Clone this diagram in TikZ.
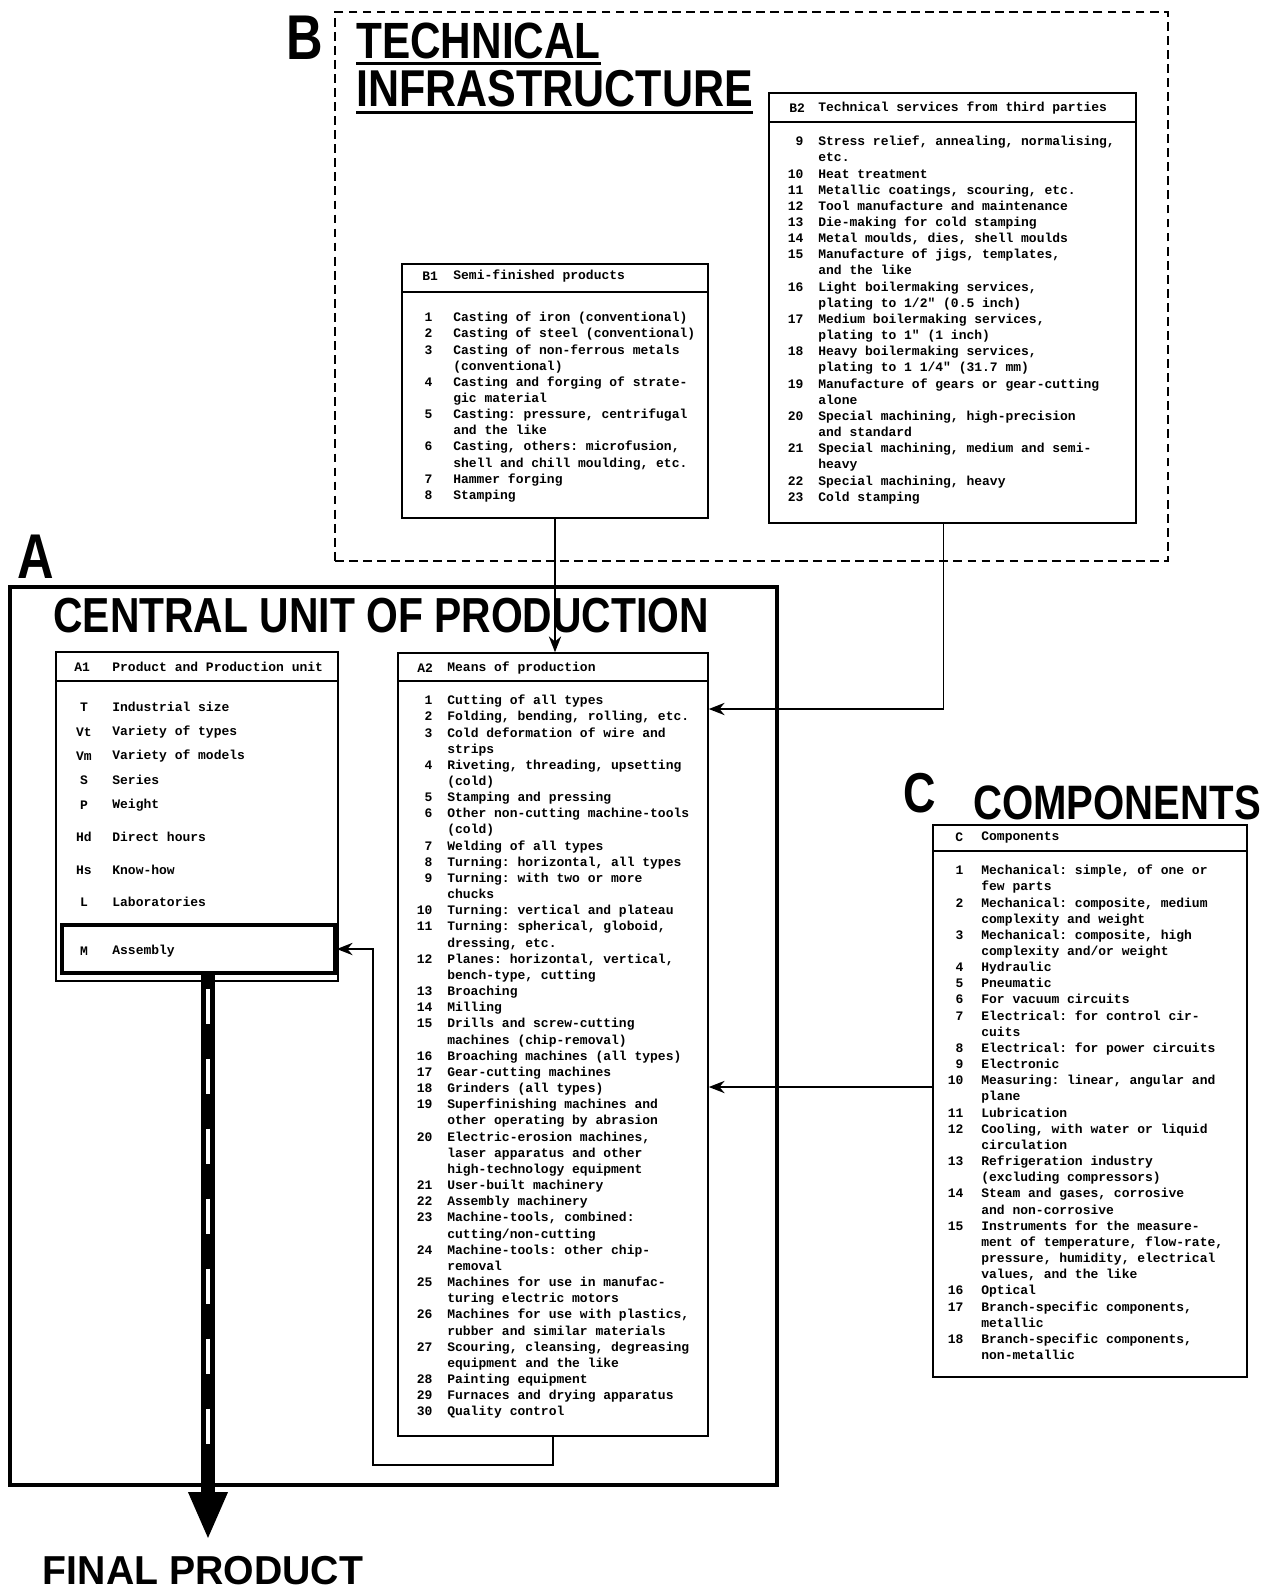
\documentclass[tikz,border=0pt]{standalone}
\usepackage{fontspec}
\setmonofont{Liberation Mono}
\newfontfamily\titlefont{Liberation Sans}[FakeStretch=0.83]
\newfontfamily\letterfont{Liberation Sans}[FakeStretch=0.8]
\newfontfamily\finalfont{Liberation Sans}[FakeStretch=0.97]
\usetikzlibrary{arrows.meta, positioning, fit}

% numbered line of a list: number hangs left of the text column
\newcommand\lrow[3][3mm]{\strut\llap{#2\hspace{#1}}#3}

\begin{document}
\begin{tikzpicture}[x=0.02cm, y=-0.02cm,
  panel/.style={draw, line width=0.9pt, inner sep=0pt},
  frameA/.style={draw, line width=2.6pt, inner sep=0pt},
  frameB/.style={draw, line width=0.7pt, dash pattern=on 5pt off 3pt, inner sep=0pt},
  list/.style={font=\fontsize{7.4}{9.2}\selectfont\ttfamily\bfseries, align=left, inner sep=0pt, anchor=north west},
  head/.style={font=\fontsize{7.4}{9.2}\selectfont\ttfamily\bfseries, inner sep=0pt, anchor=west},
  title/.style={font=\fontsize{29}{30}\selectfont\titlefont\bfseries, inner sep=0pt, anchor=west},
  letter/.style={font=\fontsize{36}{36}\selectfont\letterfont\bfseries, inner sep=0pt},
  flow/.style={line width=1pt, -{Stealth[length=9pt, width=7pt]}}]
\useasboundingbox (0,0) rectangle (1273,1593);

% B technical infrastructure
\node[frameB, fit={(335,12) (1168,561)}] (B) {};
\node[letter] (Bl) at (305,38) {B};
\node[title] (tech) at (356,41) {TECHNICAL};
\node[title, font=\fontsize{29.5}{30}\selectfont\titlefont\bfseries] (infra) at (356,89) {INFRASTRUCTURE};
\draw[line width=1.7pt] ([yshift=-2.5pt]tech.south west) -- ([yshift=-2.5pt]tech.south east);
\draw[line width=1.7pt] ([yshift=-2.5pt]infra.south west) -- ([yshift=-2.5pt]infra.south east);

% B1 semi-finished products
\node[panel, fit={(402,264) (708,518)}] (b1) {};
\draw[line width=0.7pt] (b1.west |- 0,292) -- (b1.east |- 0,292);
\node[head] (b1n) at (422,276) {B1};
\node[head] (b1h) at (453,276) {Semi-finished products};
\node[list] (b1list) at (453,310) {%
\lrow[4.2mm]{1}{Casting of iron (conventional)}\\
\lrow[4.2mm]{2}{Casting of steel (conventional)}\\
\lrow[4.2mm]{3}{Casting of non-ferrous metals}\\
(conventional)\\
\lrow[4.2mm]{4}{Casting and forging of strate-}\\
gic material\\
\lrow[4.2mm]{5}{Casting: pressure, centrifugal}\\
and the like\\
\lrow[4.2mm]{6}{Casting, others: microfusion,}\\
shell and chill moulding, etc.\\
\lrow[4.2mm]{7}{Hammer forging}\\
\lrow[4.2mm]{8}{Stamping}};

% B2 technical services
\node[panel, fit={(769,93) (1136,523)}] (b2) {};
\draw[line width=0.7pt] (b2.west |- 0,122) -- (b2.east |- 0,122);
\node[head] (b2n) at (789,108) {B2};
\node[head] (b2h) at (818,108) {Technical services from third parties};
\node[list] (b2list) at (818,134) {%
\lrow{9}{Stress relief, annealing, normalising,}\\
etc.\\
\lrow{10}{Heat treatment}\\
\lrow{11}{Metallic coatings, scouring, etc.}\\
\lrow{12}{Tool manufacture and maintenance}\\
\lrow{13}{Die-making for cold stamping}\\
\lrow{14}{Metal moulds, dies, shell moulds}\\
\lrow{15}{Manufacture of jigs, templates,}\\
and the like\\
\lrow{16}{Light boilermaking services,}\\
plating to 1/2" (0.5 inch)\\
\lrow{17}{Medium boilermaking services,}\\
plating to 1" (1 inch)\\
\lrow{18}{Heavy boilermaking services,}\\
plating to 1 1/4" (31.7 mm)\\
\lrow{19}{Manufacture of gears or gear-cutting}\\
alone\\
\lrow{20}{Special machining, high-precision}\\
and standard\\
\lrow{21}{Special machining, medium and semi-}\\
heavy\\
\lrow{22}{Special machining, heavy}\\
\lrow{23}{Cold stamping}};

% A central unit of production
\node[frameA, fit={(10,587) (777,1485)}] (A) {};
\node[letter] (Al) at (36,557) {A};
\node[title, font=\fontsize{28}{30}\selectfont\titlefont\bfseries] (central) at (53,616) {CENTRAL UNIT OF PRODUCTION};

% A1 product and production unit
\node[panel, fit={(56,652) (338,981)}] (a1) {};
\draw[line width=0.7pt] (a1.west |- 0,681) -- (a1.east |- 0,681);
\node[head] (a1n) at (74,667) {A1};
\node[head] (a1h) at (112,667) {Product and Production unit};
\foreach \y/\c/\t [count=\i] in {707/T/Industrial size, 732/Vt/Variety of types,
    756/Vm/Variety of models, 780/S/Series, 805/P/Weight, 837/Hd/Direct hours,
    870/Hs/Know-how, 902/L/Laboratories, 951/M/Assembly} {
  \node[head, anchor=center] (a1c\i) at (84,\y) {\c};
  \node[head] (a1t\i) at (112,\y) {\t};
}
\node[panel, line width=2pt, fit={(62,925) (335,973)}] (asm) {};

% A2 means of production
\node[panel, fit={(398,653) (708,1436)}] (a2) {};
\draw[line width=0.7pt] (a2.west |- 0,681) -- (a2.east |- 0,681);
\node[head] (a2n) at (417,668) {A2};
\node[head] (a2h) at (447,668) {Means of production};
\node[list] (a2list) at (447,693) {%
\lrow{1}{Cutting of all types}\\
\lrow{2}{Folding, bending, rolling, etc.}\\
\lrow{3}{Cold deformation of wire and}\\
strips\\
\lrow{4}{Riveting, threading, upsetting}\\
(cold)\\
\lrow{5}{Stamping and pressing}\\
\lrow{6}{Other non-cutting machine-tools}\\
(cold)\\
\lrow{7}{Welding of all types}\\
\lrow{8}{Turning: horizontal, all types}\\
\lrow{9}{Turning: with two or more}\\
chucks\\
\lrow{10}{Turning: vertical and plateau}\\
\lrow{11}{Turning: spherical, globoid,}\\
dressing, etc.\\
\lrow{12}{Planes: horizontal, vertical,}\\
bench-type, cutting\\
\lrow{13}{Broaching}\\
\lrow{14}{Milling}\\
\lrow{15}{Drills and screw-cutting}\\
machines (chip-removal)\\
\lrow{16}{Broaching machines (all types)}\\
\lrow{17}{Gear-cutting machines}\\
\lrow{18}{Grinders (all types)}\\
\lrow{19}{Superfinishing machines and}\\
other operating by abrasion\\
\lrow{20}{Electric-erosion machines,}\\
laser apparatus and other\\
high-technology equipment\\
\lrow{21}{User-built machinery}\\
\lrow{22}{Assembly machinery}\\
\lrow{23}{Machine-tools, combined:}\\
cutting/non-cutting\\
\lrow{24}{Machine-tools: other chip-}\\
removal\\
\lrow{25}{Machines for use in manufac-}\\
turing electric motors\\
\lrow{26}{Machines for use with plastics,}\\
rubber and similar materials\\
\lrow{27}{Scouring, cleansing, degreasing}\\
equipment and the like\\
\lrow{28}{Painting equipment}\\
\lrow{29}{Furnaces and drying apparatus}\\
\lrow{30}{Quality control}};

% C components
\node[letter, font=\fontsize{32}{32}\selectfont\letterfont\bfseries] (Cl) at (920,793) {C};
\node[title, font=\fontsize{27.5}{30}\selectfont\titlefont\bfseries] (comp) at (973,803) {COMPONENTS};
\node[panel, fit={(933,825) (1247,1377)}] (cbox) {};
\draw[line width=0.7pt] (cbox.west |- 0,851) -- (cbox.east |- 0,851);
\node[head] (cn) at (955,837) {C};
\node[head] (ch) at (981,837) {Components};
\node[list] (clist) at (981,863) {%
\lrow[3.6mm]{1}{Mechanical: simple, of one or}\\
few parts\\
\lrow[3.6mm]{2}{Mechanical: composite, medium}\\
complexity and weight\\
\lrow[3.6mm]{3}{Mechanical: composite, high}\\
complexity and/or weight\\
\lrow[3.6mm]{4}{Hydraulic}\\
\lrow[3.6mm]{5}{Pneumatic}\\
\lrow[3.6mm]{6}{For vacuum circuits}\\
\lrow[3.6mm]{7}{Electrical: for control cir-}\\
cuits\\
\lrow[3.6mm]{8}{Electrical: for power circuits}\\
\lrow[3.6mm]{9}{Electronic}\\
\lrow[3.6mm]{10}{Measuring: linear, angular and}\\
plane\\
\lrow[3.6mm]{11}{Lubrication}\\
\lrow[3.6mm]{12}{Cooling, with water or liquid}\\
circulation\\
\lrow[3.6mm]{13}{Refrigeration industry}\\
(excluding compressors)\\
\lrow[3.6mm]{14}{Steam and gases, corrosive}\\
and non-corrosive\\
\lrow[3.6mm]{15}{Instruments for the measure-}\\
ment of temperature, flow-rate,\\
pressure, humidity, electrical\\
values, and the like\\
\lrow[3.6mm]{16}{Optical}\\
\lrow[3.6mm]{17}{Branch-specific components,}\\
metallic\\
\lrow[3.6mm]{18}{Branch-specific components,}\\
non-metallic};

% flows into the means of production
\draw[flow] (b1.south) -- (b1.south |- a2.north);
\draw[flow] ([xshift=-0.18cm]b2.south) |- (a2.east |- 0,709);
\draw[flow] (cbox.west |- 0,1087) -- (a2.east |- 0,1087);

% means of production feed the assembly
\coordinate (fbL) at (373,1465);
\draw[flow] (a2.south) |- (fbL) |- (asm.east);

% final product
\node[font=\fontsize{23}{25}\selectfont\finalfont\bfseries, inner sep=0pt] (final) at (203,1571) {FINAL PRODUCT};
\coordinate (fpTip) at (208,1540);
\draw[line width=8pt, -{Triangle[length=0.96cm, width=0.72cm]}] (fpTip |- asm.south) -- (fpTip);
\draw[white, line width=2pt, dash pattern=on 0.7cm off 0.7cm] (fpTip |- asm.south) ++(0,14) -- ++(0,480);
\end{tikzpicture}
\end{document}
